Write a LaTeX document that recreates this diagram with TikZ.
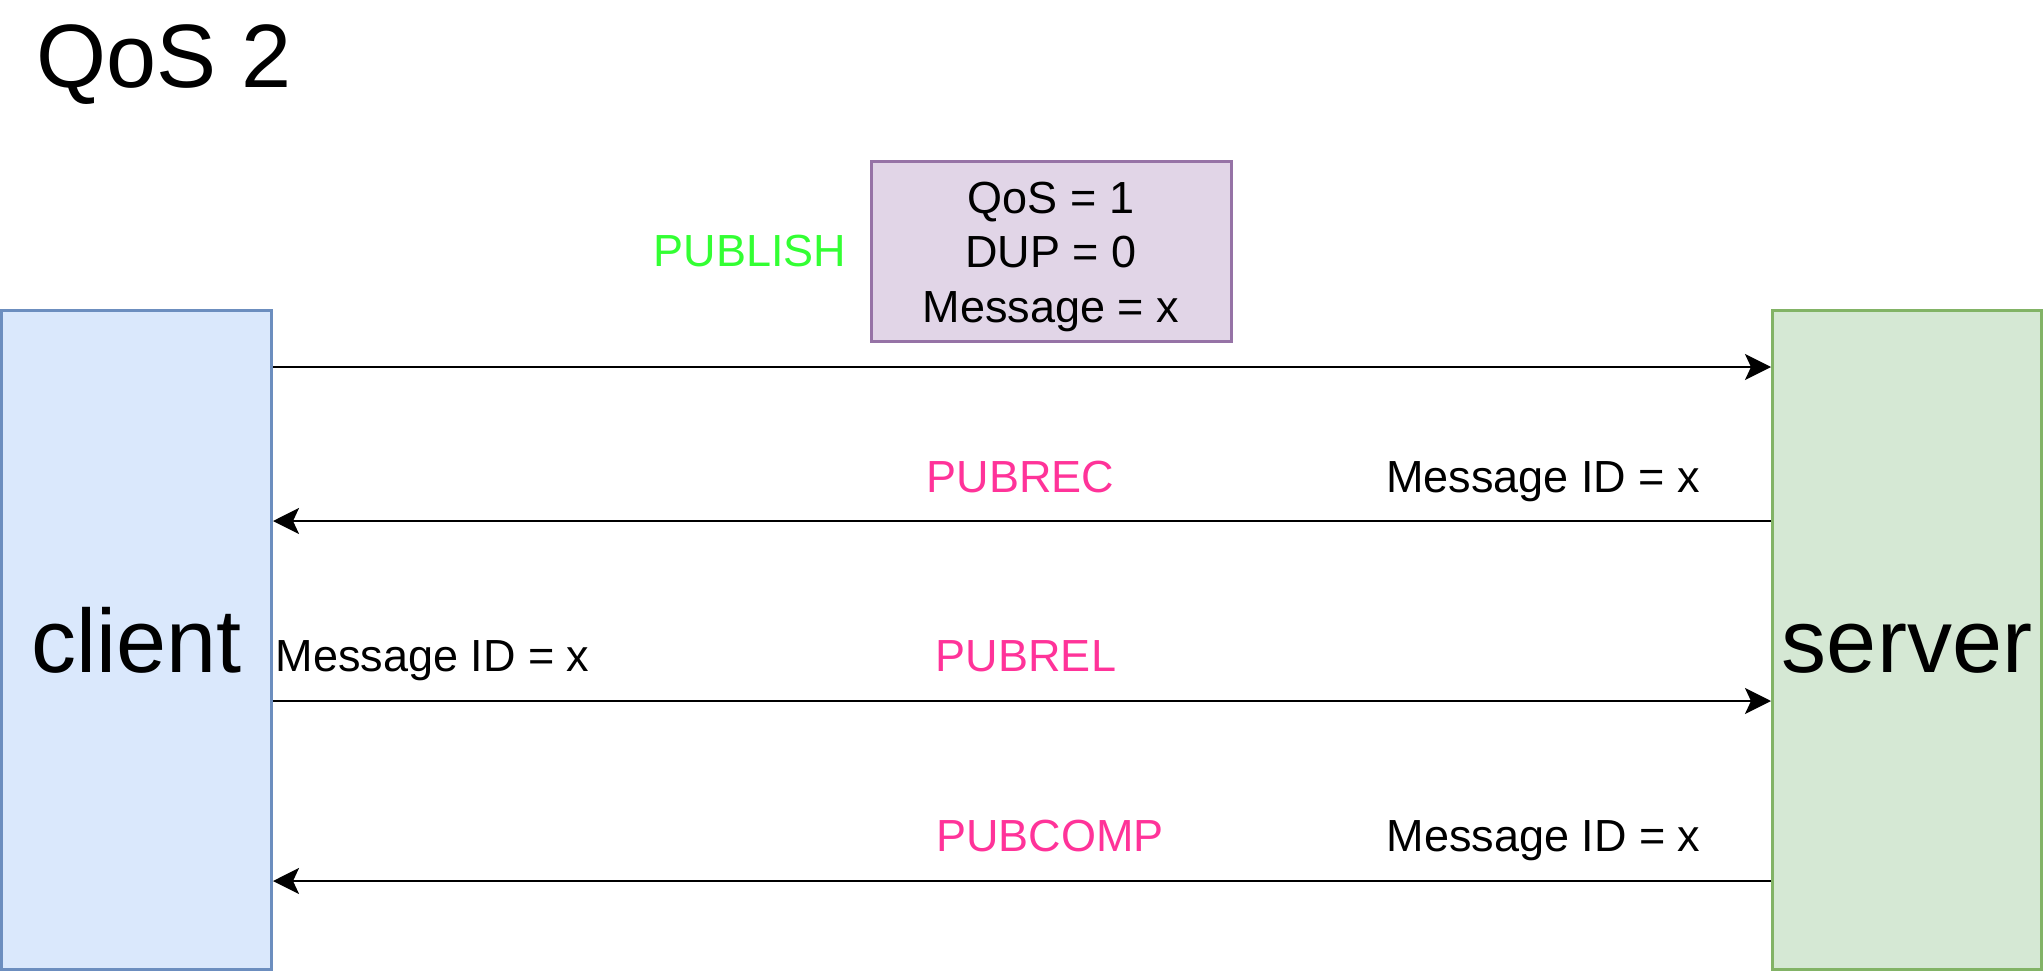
\documentclass[tikz,border=0pt]{standalone}
\usepackage{fontspec}
\setmainfont{Liberation Sans}
\usetikzlibrary{arrows.meta}
\definecolor{cfill}{HTML}{DAE8FC}
\definecolor{cdraw}{HTML}{6C8EBF}
\definecolor{sfill}{HTML}{D5E8D4}
\definecolor{sdraw}{HTML}{82B366}
\definecolor{pfill}{HTML}{E1D5E7}
\definecolor{pdraw}{HTML}{9673A6}
\definecolor{pubgreen}{HTML}{33FF33}
\definecolor{pubpink}{HTML}{FF3399}
\tikzset{
  party/.style={rectangle, line width=3pt, inner sep=0pt, text height=65pt, text depth=0pt,
    font=\fontsize{90}{108}\selectfont},
  msg/.style={line width=2.5pt, -{Stealth[length=26pt,width=26pt,inset=6pt]}},
  lbl/.style={inner sep=0pt, anchor=base, font=\fontsize{45}{54}\selectfont},
}
\begin{document}
\begin{tikzpicture}[x=1pt,y=-1pt]
\useasboundingbox (0,0) rectangle (2043,972);
\node[inner sep=0pt, anchor=base west, font=\fontsize{90}{108}\selectfont] (title) at (36.5,87) {QoS 2};
\node[party, fill=cfill, draw=cdraw, minimum width=270pt, minimum height=659pt] (client) at (136.5,639.5) {client};
\node[party, fill=sfill, draw=sdraw, minimum width=269pt, minimum height=659pt] (server) at (1907,639.5) {server};
\node[rectangle, fill=pfill, draw=pdraw, line width=3pt, minimum width=360pt, minimum height=180pt, inner sep=0pt] (pubbox) at (1051.5,251) {};
\node[lbl] (l1) at (1051,213) {QoS = 1};
\node[lbl] (l2) at (1051,267) {DUP = 0};
\node[lbl] (l3) at (1051,322) {Message = x};
\node[lbl, text=pubgreen] (publish) at (750,266) {PUBLISH};
\node[lbl, text=pubpink] (pubrec) at (1020.5,492) {PUBREC};
\node[lbl] (id1) at (1543,492) {Message ID = x};
\node[lbl] (id2) at (432.5,671) {Message ID = x};
\node[lbl, text=pubpink] (pubrel) at (1026,671) {PUBREL};
\node[lbl, text=pubpink] (pubcomp) at (1050,851) {PUBCOMP};
\node[lbl] (id3) at (1543.5,851) {Message ID = x};
\coordinate (y1) at (0,367);
\coordinate (y2) at (0,521);
\coordinate (y3) at (0,701);
\coordinate (y4) at (0,881);
\draw[msg] (client.east |- y1) -- (server.west |- y1);
\draw[msg] (server.west |- y2) -- (client.east |- y2);
\draw[msg] (client.east |- y3) -- (server.west |- y3);
\draw[msg] (server.west |- y4) -- (client.east |- y4);
\end{tikzpicture}
\end{document}
